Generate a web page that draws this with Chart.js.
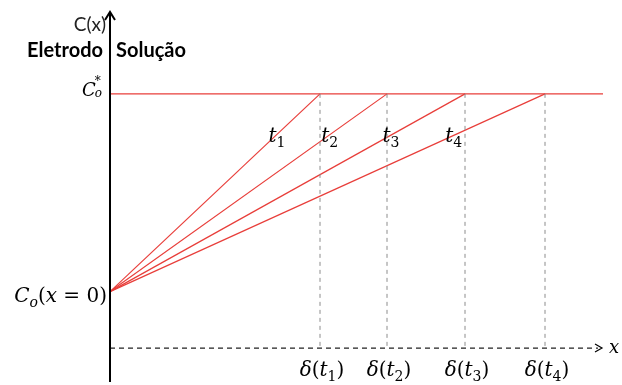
<!DOCTYPE html>
<html>
<head>
<meta charset="utf-8">
<script src="https://cdn.jsdelivr.net/npm/chart.js@4"></script>
<style>
  html, body { margin: 0; padding: 0; background: #fff; }
  #wrap { width: 622px; height: 385px; }
</style>
</head>
<body>
<div id="wrap"><canvas id="chart"></canvas></div>
<script>
// concentration profiles at four times
const timeIndex = ['1', '2', '3', '4'];
const deltaX = [2.1, 2.77, 3.55, 4.35];   // diffusion layer thickness δ(t)
const cSurface = 1.0;                      // C_o(x = 0)
const cBulk = 4.5;                         // C_o*
const xEnd = 4.93;
const xAxisEnd = 4.88;
const yAxisRange = [-0.6, 5.95];
const tLabelY = 3.75;

const red = 'rgb(232, 62, 58)';
const serif = '"DejaVu Serif", "Liberation Serif", serif';
const sans = 'Lato, "Open Sans", sans-serif';

function line(points, color, width, dash) {
  return {
    data: points,
    borderColor: color,
    borderWidth: width,
    borderDash: dash || [],
    showLine: true,
    pointRadius: 0,
    fill: false,
    clip: false
  };
}

const datasets = [];
datasets.push(line([{x: 0, y: yAxisRange[0]}, {x: 0, y: yAxisRange[1]}], '#000', 2));
datasets.push(line([{x: 0, y: 0}, {x: xAxisEnd, y: 0}], '#222', 1.2, [5, 4]));
deltaX.forEach(d => {
  datasets.push(line([{x: d, y: cBulk}, {x: d, y: 0}], 'rgb(140,140,140)', 1, [4, 4]));
});
datasets.push(line([{x: 0, y: cBulk}, {x: xEnd, y: cBulk}], red, 1.2));
deltaX.forEach(d => {
  datasets.push(line([{x: 0, y: cSurface}, {x: d, y: cBulk}], red, 1.2));
});

// draws a run of text pieces: {t, it, sub, sup}
function drawRich(ctx, parts, x, y, size, align) {
  const fontFor = p => (p.it ? 'italic ' : '') + Math.round(p.sub || p.sup ? size * 0.68 : size) + 'px ' + serif;
  let w = 0;
  parts.forEach(p => { ctx.font = fontFor(p); w += ctx.measureText(p.t).width; });
  let cx = align === 'right' ? x - w : align === 'center' ? x - w / 2 : x;
  ctx.textBaseline = 'alphabetic';
  ctx.textAlign = 'left';
  parts.forEach(p => {
    ctx.font = fontFor(p);
    const dy = p.sub ? size * 0.25 : p.sup ? -size * 0.42 : 0;
    ctx.fillText(p.t, cx, y + dy);
    cx += ctx.measureText(p.t).width;
  });
}

const annotations = {
  id: 'annotations',
  afterDatasetsDraw(chart) {
    const {ctx, scales: {x, y}} = chart;
    const x0 = x.getPixelForValue(0);
    const y0 = y.getPixelForValue(0);
    ctx.save();
    ctx.fillStyle = '#000';
    ctx.strokeStyle = '#000';

    // arrow on the concentration axis
    const top = y.getPixelForValue(yAxisRange[1]);
    ctx.lineWidth = 2;
    ctx.beginPath();
    ctx.moveTo(x0 - 5, top + 8);
    ctx.lineTo(x0, top);
    ctx.lineTo(x0 + 5, top + 8);
    ctx.stroke();

    // arrow on the distance axis
    const tip = x.getPixelForValue(xAxisEnd) + 4;
    ctx.lineWidth = 1.2;
    ctx.beginPath();
    ctx.moveTo(tip - 7, y0 - 4);
    ctx.lineTo(tip, y0);
    ctx.lineTo(tip - 7, y0 + 4);
    ctx.stroke();
    drawRich(ctx, [{t: 'x', it: true}], tip + 7, y0 + 5, 18, 'left');

    // axis titles
    ctx.fillStyle = '#222';
    ctx.font = '19px ' + sans;
    ctx.textAlign = 'right';
    ctx.textBaseline = 'middle';
    ctx.fillText('C(x)', x0 - 4, top + 13);
    ctx.fillStyle = '#000';
    ctx.font = 'bold 20px ' + sans;
    ctx.fillText('Eletrodo', x0 - 7, 51);
    ctx.textAlign = 'left';
    ctx.fillText('Solução', x0 + 6, 51);

    // C_o* label
    const yb = y.getPixelForValue(cBulk);
    ctx.font = 'italic 18px ' + serif;
    ctx.textAlign = 'left';
    ctx.textBaseline = 'alphabetic';
    const cw = ctx.measureText('C').width;
    const cx = x0 - 28;
    ctx.fillText('C', cx, yb + 2);
    ctx.font = 'italic 12px ' + serif;
    ctx.fillText('*', cx + cw - 1, yb - 9);
    ctx.fillText('o', cx + cw - 1, yb + 3);

    // C_o(x = 0) label
    const ys = y.getPixelForValue(cSurface);
    drawRich(ctx, [
      {t: 'C', it: true}, {t: 'o', it: true, sub: true},
      {t: '('}, {t: 'x', it: true}, {t: ' = 0)'}
    ], x0 - 3, ys + 10, 20, 'right');

    // t labels on the profiles, δ(t) labels under the dashed lines
    deltaX.forEach((d, i) => {
      const xl = d * (tLabelY - cSurface) / (cBulk - cSurface);
      drawRich(ctx, [{t: 't', it: true}, {t: timeIndex[i], sub: true}],
        x.getPixelForValue(xl) + 2, y.getPixelForValue(tLabelY) + 6, 20, 'center');
      drawRich(ctx, [{t: 'δ', it: true}, {t: '('}, {t: 't', it: true},
        {t: timeIndex[i], sub: true}, {t: ')'}],
        x.getPixelForValue(d) + 2, y0 + 28, 20, 'center');
    });
    ctx.restore();
  }
};

new Chart(document.getElementById('chart'), {
  type: 'scatter',
  data: { datasets: datasets },
  options: {
    responsive: true,
    maintainAspectRatio: false,
    animation: false,
    layout: { padding: { left: 110, right: 12, top: 8, bottom: 3 } },
    scales: {
      x: { type: 'linear', min: 0, max: 5, display: false },
      y: { type: 'linear', min: -0.6, max: 6.02, display: false }
    },
    plugins: {
      legend: { display: false },
      tooltip: { enabled: false }
    }
  },
  plugins: [annotations]
});
</script>
</body>
</html>
